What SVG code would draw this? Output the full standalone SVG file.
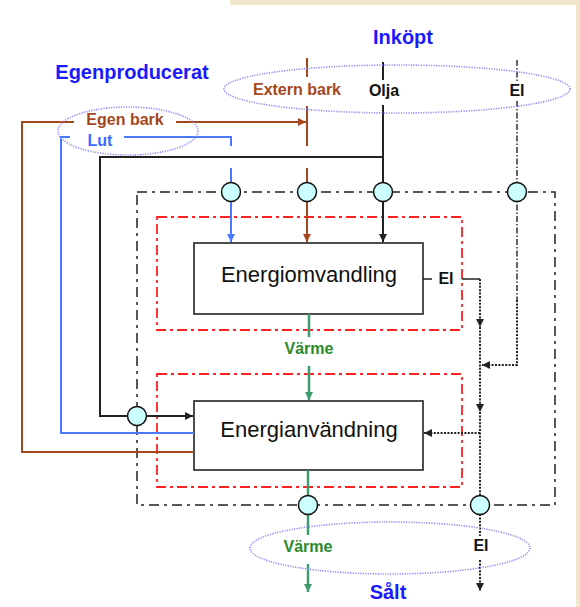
<svg xmlns="http://www.w3.org/2000/svg" width="580" height="607" viewBox="0 0 580 607">
<style>
text{font-family:"Liberation Sans",Arial,sans-serif;text-anchor:middle}
.b{font-weight:bold}
.lbl{font-size:16px;font-weight:bold}
.hd{font-size:20px;font-weight:bold;fill:#1a1aff}
.box{fill:#fff;stroke:#222;stroke-width:1.6}
.boxt{font-size:22px;fill:#111}
.red{fill:none;stroke:#ff2020;stroke-width:1.8;stroke-dasharray:10,4,3,4}
.outer{fill:none;stroke:#222;stroke-width:1.5;stroke-dasharray:10,5,3,5}
.ell{fill:none;stroke:#8c8cff;stroke-width:1.6;stroke-dasharray:1.2,1.3}
.port{fill:#ccffff;stroke:#111;stroke-width:1.5}
.brown{fill:none;stroke:#a4471c;stroke-width:2}
.blue{fill:none;stroke:#4a78ff;stroke-width:2}
.blk{fill:none;stroke:#222;stroke-width:2}
.grn{fill:none;stroke:#3c9c6c;stroke-width:2.5}
.dot{fill:none;stroke:#222;stroke-width:2;stroke-dasharray:2,1.4}
.dd{fill:none;stroke:#222;stroke-width:1.4;stroke-dasharray:6,2,1.5,2}
</style>
<defs>
<marker id="aBr" markerUnits="userSpaceOnUse" markerWidth="10" markerHeight="10" refX="8" refY="4" orient="auto"><path d="M0,0 L8,4 L0,8 Z" fill="#a4471c"/></marker>
<marker id="aBl" markerUnits="userSpaceOnUse" markerWidth="10" markerHeight="10" refX="8" refY="4" orient="auto"><path d="M0,0 L8,4 L0,8 Z" fill="#4a78ff"/></marker>
<marker id="aK" markerUnits="userSpaceOnUse" markerWidth="10" markerHeight="10" refX="8" refY="4" orient="auto"><path d="M0,0 L8,4 L0,8 Z" fill="#222"/></marker>
<marker id="aG" markerUnits="userSpaceOnUse" markerWidth="10" markerHeight="10" refX="8" refY="4" orient="auto"><path d="M0,0 L8,4 L0,8 Z" fill="#3c9c6c"/></marker>
</defs>
<rect x="0" y="0" width="580" height="607" fill="#fff"/>
<rect x="230" y="0" width="350" height="5" fill="#f2e6cc"/>
<rect x="576" y="0" width="4" height="607" fill="#f2e6cc"/>

<g id="boundaries">
<rect class="outer" x="137" y="192" width="418" height="313"/>
<rect class="red" x="157" y="217" width="305" height="113"/>
<rect class="red" x="157" y="374" width="305" height="113"/>
</g>

<g id="node-energiomvandling">
<rect class="box" x="194" y="243" width="229" height="71"/>
<text class="boxt" x="309" y="282">Energiomvandling</text>
</g>
<g id="node-energianvandning">
<rect class="box" x="194" y="401" width="229" height="69"/>
<text class="boxt" x="309" y="437">Energianvändning</text>
</g>

<g id="connectors">
<path class="brown" d="M194,452 H22 V122 H74"/>
<path class="brown" d="M176,122 H306" marker-end="url(#aBr)"/>
<path class="brown" d="M307,58 V77 M307,106 V146"/>
<path class="brown" d="M307,168 V242" marker-end="url(#aBr)"/>
<path class="blue" d="M194,433 H61 V137 H70 M124,137 H231 V146"/>
<path class="blue" d="M231,168 V242" marker-end="url(#aBl)"/>
<path class="blk" d="M383,62 V80"/>
<path class="blk" d="M383,105 V242" marker-end="url(#aK)"/>
<path class="blk" d="M383,157 H100 V416 H193" marker-end="url(#aK)"/>
<path class="grn" d="M309,314 V337"/>
<path class="grn" d="M309,366 V400" marker-end="url(#aG)"/>
<path class="grn" d="M308,470 V535"/>
<path class="grn" d="M308,564 V592" marker-end="url(#aG)"/>
<path class="dd" d="M517,60 V82 M517,101 V300"/>
<path class="dot" d="M517,300 V365 H482" marker-end="url(#aK)"/>
<path class="blk" style="stroke-width:1.6" d="M423,279 H432 M462,279 H480"/>
<path class="dot" d="M480,279 V327" marker-end="url(#aK)"/>
<path class="dot" d="M480,327 V412" marker-end="url(#aK)"/>
<path class="dot" d="M480,412 V536"/>
<path class="dot" d="M480,433 H424" marker-end="url(#aK)"/>
<path class="dot" d="M480,560 V591" marker-end="url(#aK)"/>
</g>

<g id="ports">
<circle class="port" cx="231" cy="192" r="9.5"/>
<circle class="port" cx="307" cy="192" r="9.5"/>
<circle class="port" cx="383" cy="192" r="9.5"/>
<circle class="port" cx="517" cy="192" r="9.5"/>
<circle class="port" cx="137" cy="416" r="9.5"/>
<circle class="port" cx="308" cy="505" r="9.5"/>
<circle class="port" cx="480" cy="505" r="9.5"/>
</g>

<g id="group-inkopt">
<ellipse class="ell" cx="397" cy="89" rx="173" ry="24"/>
<text class="hd" x="403" y="44">Inköpt</text>
<text class="lbl" x="297" y="95" fill="#a4471c">Extern bark</text>
<text class="lbl" x="384" y="96" fill="#111">Olja</text>
<text class="lbl" x="517" y="96" fill="#111">El</text>
</g>
<g id="group-egenproducerat">
<ellipse class="ell" cx="128" cy="131" rx="70" ry="24"/>
<text class="hd" x="132" y="79">Egenproducerat</text>
<text class="lbl" x="125" y="125" fill="#a4471c">Egen bark</text>
<text class="lbl" x="100" y="146" fill="#3a6aff">Lut</text>
</g>
<g id="label-el-out">
<text class="lbl" x="446" y="284" fill="#111">El</text>
</g>
<g id="label-varme-mid">
<text class="lbl" x="309" y="354" fill="#2a8a2a">Värme</text>
</g>
<g id="group-salt">
<ellipse class="ell" cx="390" cy="548" rx="140" ry="26"/>
<text class="lbl" x="308" y="552" fill="#2a8a2a">Värme</text>
<text class="lbl" x="481" y="551" fill="#111">El</text>
<text class="hd" x="388" y="599">Sålt</text>
</g>
</svg>
